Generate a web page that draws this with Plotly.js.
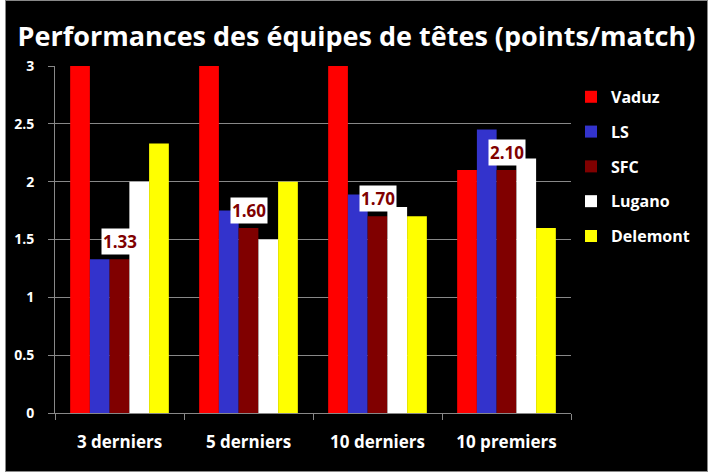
<!DOCTYPE html>
<html>
<head>
<meta charset="utf-8">
<script src="https://cdn.plot.ly/plotly-3.0.1.min.js"></script>
<style>
html,body{margin:0;padding:0;background:#fff;}
#chart{position:absolute;left:5px;top:0;width:701px;height:470px;border:1px solid #888;background:#000;}
</style>
</head>
<body>
<div id="chart"></div>
<script>
const categories = ["3 derniers", "5 derniers", "10 derniers", "10 premiers"];
const teams = ["Vaduz", "LS", "SFC", "Lugano", "Delemont"];
const vaduz    = [3.00, 3.00, 3.00, 2.10];
const ls       = [1.33, 1.75, 1.89, 2.45];
const sfc      = [1.33, 1.60, 1.70, 2.10];
const lugano   = [2.00, 1.50, 1.78, 2.20];
const delemont = [2.33, 2.00, 1.70, 1.60];
const sfcLabels = ["1.33", "1.60", "1.70", "2.10"];
const colors = ["#FF0000", "#3333CC", "#800000", "#FFFFFF", "#FFFF00"];
const series = [vaduz, ls, sfc, lugano, delemont];

const FONT = "Open Sans, sans-serif";

const traces = series.map((vals, i) => ({
  type: "bar",
  name: teams[i],
  x: categories,
  y: vals,
  marker: {color: colors[i], line: {width: 0}},
  legendgroup: "g" + i,
  hoverinfo: "skip"
}));

const annotations = categories.map((c, i) => ({
  x: c, y: sfc[i], xref: "x", yref: "y",
  text: sfcLabels[i], showarrow: false,
  yanchor: "bottom", yshift: 4,
  font: {family: FONT, size: 17, color: "#800000", weight: "bold"},
  bgcolor: "#FFFFFF", borderpad: 1
}));

const layout = {
  width: 701, height: 470,
  paper_bgcolor: "#000", plot_bgcolor: "#000",
  margin: {l: 49, r: 118, t: 65, b: 58},
  title: {
    text: "Performances des équipes de têtes (points/match)",
    font: {family: FONT, size: 27, color: "#FFFFFF", weight: "bold"},
    x: 0.5, xanchor: "center", xref: "container",
    y: 1 - 36/470, yanchor: "middle", yref: "container"
  },
  barmode: "group",
  bargap: 0.235, bargroupgap: 0,
  xaxis: {
    type: "category",
    showline: true, linecolor: "#888", linewidth: 1,
    ticks: "outside", tickson: "boundaries", ticklen: 6, tickcolor: "#888",
    showgrid: false,
    tickfont: {family: FONT, size: 17, color: "#FFFFFF", weight: "bold"},
    ticklabelstandoff: 14
  },
  yaxis: {
    range: [0, 3], dtick: 0.5, tick0: 0,
    showline: true, linecolor: "#888", linewidth: 1,
    ticks: "outside", ticklen: 6, tickcolor: "#888",
    showgrid: true, gridcolor: "#888", gridwidth: 1,
    zeroline: false,
    tickfont: {family: FONT, size: 14, color: "#FFFFFF", weight: "bold"},
    ticklabelstandoff: 11
  },
  legend: {
    x: 1.0, xanchor: "left", y: 0.96, yanchor: "top",
    font: {family: FONT, size: 16, color: "#FFFFFF", weight: "bold"},
    bgcolor: "rgba(0,0,0,0)", tracegroupgap: 11,
    traceorder: "grouped"
  },
  annotations: annotations,
  showlegend: true
};

Plotly.newPlot("chart", traces, layout, {displayModeBar: false, staticPlot: true});
</script>
</body>
</html>
